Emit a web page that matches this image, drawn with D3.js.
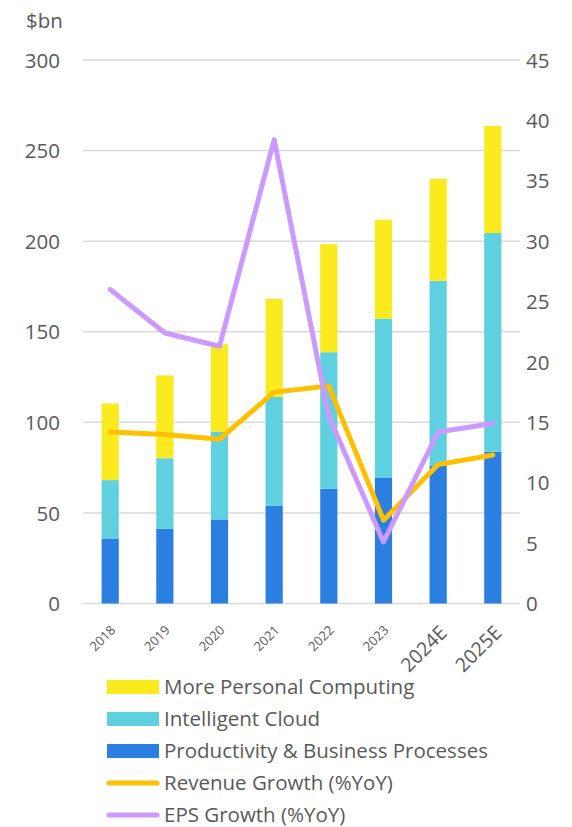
<!DOCTYPE html>
<html>
<head>
<meta charset="utf-8">
<script src="https://cdn.jsdelivr.net/npm/d3@7"></script>
<style>
  body { margin: 0; background: #fff; }
  text { font-family: "Open Sans", Lato, sans-serif; fill: #595959; }
</style>
</head>
<body>
<div id="chart"></div>
<script>
// data
const years = ["2018", "2019", "2020", "2021", "2022", "2023", "2024E", "2025E"];
const productivity = [35.9, 41.2, 46.4, 53.9, 63.4, 69.3, 76.1, 83.8];
const cloud = [32.2, 39.0, 48.4, 60.1, 75.3, 87.9, 102.0, 120.7];
const personal = [42.3, 45.7, 48.3, 54.1, 59.7, 54.7, 56.3, 59.1];
const revenueGrowth = [14.2, 14.0, 13.6, 17.5, 18.0, 6.9, 11.5, 12.3];
const epsGrowth = [26.0, 22.4, 21.3, 38.4, 15.5, 5.1, 14.2, 14.9];
const leftTicks = [0, 50, 100, 150, 200, 250, 300];
const rightTicks = [0, 5, 10, 15, 20, 25, 30, 35, 40, 45];

const width = 572, height = 827;
const margin = {left: 83, right: 52, top: 60, bottom: 224};

const svg = d3.select("#chart").append("svg")
  .attr("width", width)
  .attr("height", height);

const x = d3.scaleBand()
  .domain(years)
  .range([margin.left, width - margin.right])
  .paddingInner(0.685)
  .paddingOuter(0.34);

const y = d3.scaleLinear().domain([0, 300]).range([height - margin.bottom + 0.5, margin.top]);
const y2 = d3.scaleLinear().domain([0, 45]).range([height - margin.bottom + 0.5, margin.top]);

// gridlines
svg.append("g")
  .selectAll("line")
  .data(leftTicks)
  .enter().append("line")
  .attr("x1", margin.left)
  .attr("x2", width - margin.right)
  .attr("y1", d => y(d))
  .attr("y2", d => y(d))
  .attr("stroke", "#d9d9d9")
  .attr("stroke-width", 1.5);

// left axis
const leftAxis = svg.append("g")
  .attr("transform", `translate(60,0)`)
  .call(d3.axisLeft(y).tickValues(leftTicks).tickSize(0).tickPadding(0));
leftAxis.select(".domain").remove();
leftAxis.selectAll("text")
  .style("font-size", "20.5px")
  .attr("dy", "0.35em");

svg.append("text")
  .attr("x", 26)
  .attr("y", 28)
  .style("font-size", "20.5px")
  .text("$bn");

// right axis
const rightAxis = svg.append("g")
  .attr("transform", `translate(526,0)`)
  .call(d3.axisRight(y2).tickValues(rightTicks).tickSize(0).tickPadding(0));
rightAxis.select(".domain").remove();
rightAxis.selectAll("text")
  .style("font-size", "20.5px")
  .attr("dy", "0.35em");

// stacked bars
const keys = ["productivity", "cloud", "personal"];
const colors = {productivity: "#2b7fe0", cloud: "#5fd0e0", personal: "#fbeb1e"};
const table = years.map((yr, i) => ({
  year: yr,
  productivity: productivity[i],
  cloud: cloud[i],
  personal: personal[i]
}));
const stacked = d3.stack().keys(keys)(table);

svg.append("g")
  .selectAll("g")
  .data(stacked)
  .enter().append("g")
  .attr("fill", d => colors[d.key])
  .selectAll("rect")
  .data(d => d)
  .enter().append("rect")
  .attr("x", d => x(d.data.year))
  .attr("width", x.bandwidth())
  .attr("y", d => y(d[1]))
  .attr("height", d => y(d[0]) - y(d[1]));

// growth lines
const line = d3.line()
  .x((d, i) => x(years[i]) + x.bandwidth() / 2)
  .y(d => y2(d));

svg.append("path")
  .datum(revenueGrowth)
  .attr("d", line)
  .attr("fill", "none")
  .attr("stroke", "#ffc000")
  .attr("stroke-width", 5)
  .attr("stroke-linejoin", "round")
  .attr("stroke-linecap", "round");

svg.append("path")
  .datum(epsGrowth)
  .attr("d", line)
  .attr("fill", "none")
  .attr("stroke", "#cc99ff")
  .attr("stroke-width", 5)
  .attr("stroke-linejoin", "round")
  .attr("stroke-linecap", "round");

// x labels, rotated
svg.append("g")
  .selectAll("text")
  .data(years)
  .enter().append("text")
  .attr("text-anchor", "end")
  .attr("transform", d => {
    const cx = x(d) + x.bandwidth() / 2 + (d.endsWith("E") ? 10 : 6);
    const cy = d.endsWith("E") ? 634 : 631;
    return `translate(${cx},${cy}) rotate(-45)`;
  })
  .style("font-size", d => d.endsWith("E") ? "19.5px" : "13px")
  .text(d => d);

// legend
const legend = [
  {label: "More Personal Computing", type: "rect", color: colors.personal},
  {label: "Intelligent Cloud", type: "rect", color: colors.cloud},
  {label: "Productivity & Business Processes", type: "rect", color: colors.productivity},
  {label: "Revenue Growth (%YoY)", type: "line", color: "#ffc000"},
  {label: "EPS Growth (%YoY)", type: "line", color: "#cc99ff"}
];

const lg = svg.append("g")
  .selectAll("g")
  .data(legend)
  .enter().append("g")
  .attr("transform", (d, i) => `translate(107,${687 + i * 32})`);

lg.filter(d => d.type == "rect").append("rect")
  .attr("x", 0)
  .attr("y", -7)
  .attr("width", 52)
  .attr("height", 14)
  .attr("fill", d => d.color);

lg.filter(d => d.type == "line").append("line")
  .attr("x1", 2)
  .attr("x2", 50)
  .attr("stroke", d => d.color)
  .attr("stroke-width", 5)
  .attr("stroke-linecap", "round");

lg.append("text")
  .attr("x", 57)
  .attr("dy", "0.35em")
  .style("font-size", "20.5px")
  .text(d => d.label);
</script>
</body>
</html>
